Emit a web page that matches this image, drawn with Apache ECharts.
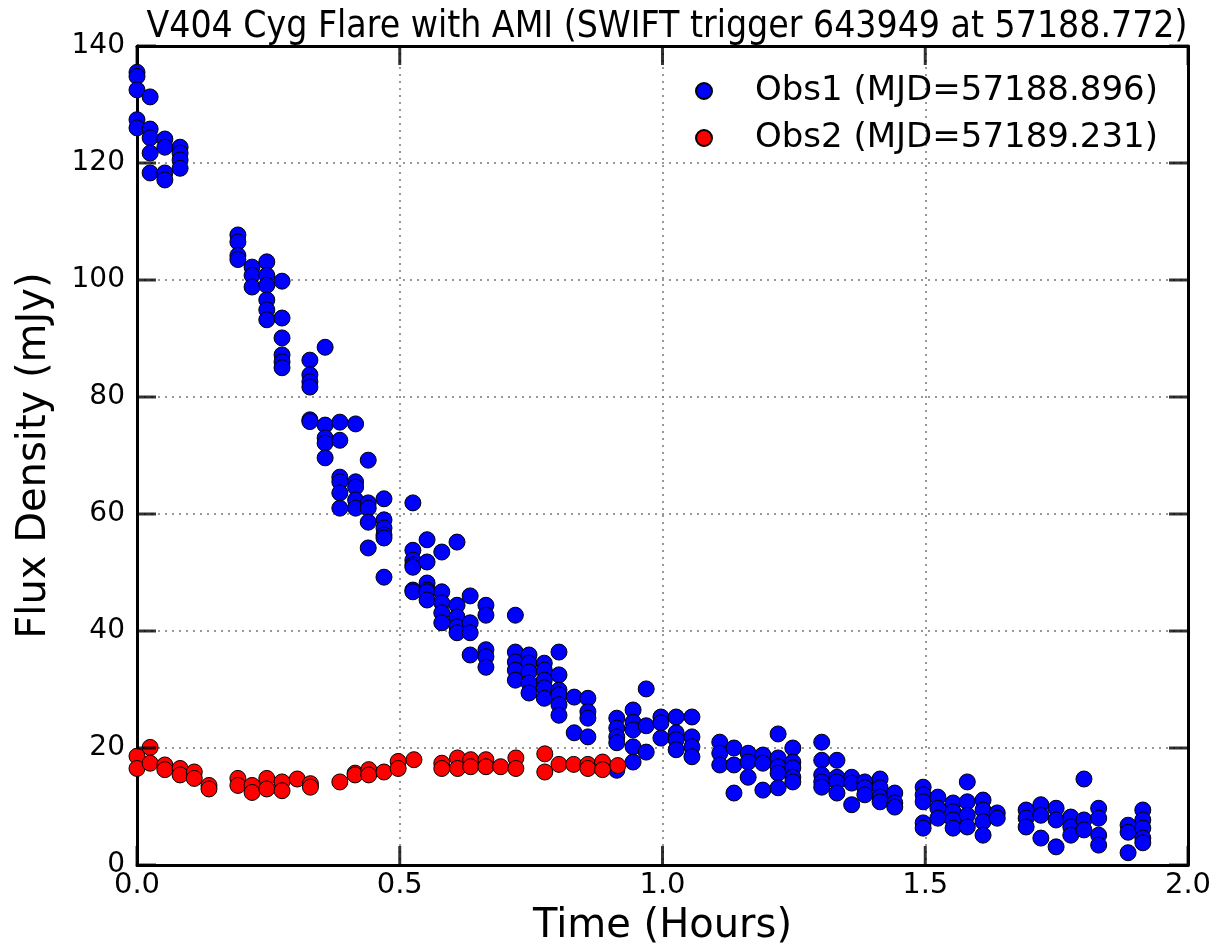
<!DOCTYPE html>
<html>
<head>
<meta charset="utf-8">
<script src="https://cdn.jsdelivr.net/npm/echarts@6/dist/echarts.min.js"></script>
<style>
html,body{margin:0;padding:0;background:#fff;}
#chart{width:1214px;height:946px;}
</style>
</head>
<body>
<div id="chart"></div>
<script>
// Obs1 (blue) points: time in hours, flux density in mJy
const obs1Time = [
  0,0,0,0,0,
  0.025,0.025,0.025,0.025,0.025,
  0.053,0.053,0.053,0.053,
  0.082,0.082,0.082,0.082,
  0.192,0.192,0.192,0.192,
  0.219,0.219,0.219,
  0.247,0.247,0.247,0.247,0.247,0.247,
  0.276,0.276,0.276,0.276,0.276,0.276,
  0.329,0.329,0.329,0.329,0.329,0.329,
  0.358,0.358,0.358,0.358,0.358,
  0.386,0.386,0.386,0.386,0.386,0.386,
  0.416,0.416,0.416,0.416,0.416,
  0.44,0.44,0.44,0.44,0.44,
  0.47,0.47,0.47,0.47,0.47,0.47,
  0.525,0.525,0.525,0.525,0.525,0.525,0.525,
  0.552,0.552,0.552,0.552,0.552,0.552,
  0.58,0.58,0.58,0.58,0.58,
  0.609,0.609,0.609,0.609,0.609,
  0.634,0.634,0.634,0.634,
  0.664,0.664,0.664,0.664,0.664,
  0.72,0.72,0.72,0.72,0.72,
  0.746,0.746,0.746,0.746,0.746,
  0.775,0.775,0.775,0.775,0.775,
  0.803,0.803,0.803,0.803,0.803,0.803,
  0.832,0.832,
  0.858,0.858,0.858,0.858,
  0.913,0.913,0.913,0.913,0.913,
  0.944,0.944,0.944,0.944,0.944,
  0.969,0.969,0.969,
  0.997,0.997,0.997,
  1.026,1.026,1.026,1.026,
  1.056,1.056,1.056,1.056,
  1.109,1.109,1.109,
  1.136,1.136,1.136,
  1.163,1.163,1.163,
  1.191,1.191,1.191,
  1.22,1.22,1.22,1.22,1.22,
  1.248,1.248,1.248,1.248,1.248,
  1.303,1.303,1.303,1.303,1.303,
  1.332,1.332,1.332,1.332,
  1.36,1.36,1.36,
  1.385,1.385,1.385,
  1.414,1.414,1.414,1.414,
  1.442,1.442,1.442,
  1.496,1.496,1.496,1.496,1.496,
  1.524,1.524,1.524,
  1.553,1.553,1.553,1.553,
  1.58,1.58,1.58,1.58,
  1.61,1.61,1.61,1.61,
  1.637,1.637,
  1.692,1.692,1.692,
  1.72,1.72,1.72,
  1.749,1.749,1.749,
  1.777,1.777,1.777,
  1.802,1.802,1.802,
  1.83,1.83,1.83,1.83,
  1.886,1.886,1.886,
  1.914,1.914,1.914,1.914,1.914
];
const obs1Flux = [
  135.5,134.8,132.5,127.4,126,
  131.3,125.8,124.3,121.7,118.3,
  124.1,122.7,118.3,117.1,
  122.7,121.7,120.5,119.1,
  107.7,106.5,104.2,103.5,
  102.2,100.8,98.8,
  103.1,100.8,99.1,96.6,94.9,93.2,
  99.8,93.5,90.1,87.2,86,85,
  86.3,83.8,82.6,81.7,76.1,75.8,
  88.5,75.2,73.0,72.1,69.6,
  75.7,72.6,66.3,65.5,63.6,61.0,
  75.4,65.5,64.6,62.4,61.0,
  69.2,61.9,61.0,58.6,54.2,
  62.6,59.0,57.6,56.4,55.9,49.2,
  61.9,53.8,52.1,51.3,50.9,47.0,46.7,
  55.6,51.8,48.2,47.0,46.7,45.3,
  53.5,46.7,44.8,43.1,41.4,
  55.2,44.4,42.4,40.7,39.7,
  46.0,41.4,39.7,35.9,
  44.4,42.7,36.8,35.6,33.8,
  42.7,36.4,34.7,33.3,31.6,
  35.9,34.5,33.0,31.1,29.4,
  34.5,33.3,31.6,30.3,28.5,
  36.4,32.5,29.9,29.1,27.4,25.6,
  28.7,22.6,
  28.5,26.2,25.1,21.9,
  25.1,23.4,21.9,20.9,16.2,
  26.5,24.4,23.1,20.2,17.6,
  30.1,23.8,19.3,
  25.3,24.3,21.7,
  25.3,22.6,21.4,19.7,
  25.3,21.9,20.2,18.5,
  21.0,19.1,17.1,
  20.0,17.1,12.3,
  19.1,17.6,15.0,
  18.8,17.4,12.8,
  22.4,18.3,16.8,15.7,13.2,
  20.0,17.6,16.6,15.0,14.2,
  21.0,17.9,15.4,14.2,13.3,
  17.9,15.0,14.2,12.3,
  15.0,14.0,10.3,
  14.2,13.2,12.0,
  14.7,13.2,11.6,10.8,
  12.3,10.6,9.9,
  13.3,12.0,10.8,7.2,6.3,
  11.6,9.7,8.0,
  10.6,9.1,7.7,6.3,
  14.2,10.8,8.5,6.5,
  11.1,9.4,7.4,5.1,
  8.9,8.0,
  9.4,8.0,6.5,
  10.3,8.5,4.6,
  9.7,7.7,3.1,
  8.2,6.5,5.1,
  14.7,7.7,6.0,
  9.7,8.0,5.1,3.4,
  6.8,5.6,2.1,
  9.4,7.7,6.3,4.6,3.8
];
// Obs2 (red) points
const obs2Time = [
  0,0, 0.025,0.025, 0.053,0.053, 0.082,0.082, 0.109,0.109, 0.137,0.137,
  0.192,0.192, 0.219,0.219, 0.247,0.247, 0.276,0.276, 0.305, 0.33,0.33,
  0.386, 0.415,0.415, 0.441,0.441, 0.47, 0.497,0.497, 0.527,
  0.58,0.58, 0.61,0.61, 0.635,0.635, 0.664,0.664, 0.692, 0.721,0.721,
  0.776,0.776, 0.803, 0.831, 0.858,0.858, 0.886,0.886, 0.915
];
const obs2Flux = [
  18.6,16.5, 20.1,17.4, 17.1,16.3, 16.5,15.4, 15.9,14.8, 13.6,13.0,
  14.8,13.6, 13.6,12.4, 14.8,13.0, 14.2,12.7, 14.7, 13.9,13.3,
  14.2, 15.7,15.4, 16.3,15.4, 15.9, 17.7,16.5, 18.0,
  17.4,16.5, 18.3,16.5, 18.0,16.8, 18.0,16.8, 16.8, 18.3,16.5,
  19.0,15.9, 17.2, 17.2, 17.2,16.5, 17.6,16.3, 17.0
];
// major tick values
const xTicks = [0, 0.5, 1.0, 1.5, 2.0];
const yTicks = [0, 20, 40, 60, 80, 100, 120, 140];
const seriesNames = ['Obs1 (MJD=57188.896)', 'Obs2 (MJD=57189.231)'];
const titleText = 'V404 Cyg Flare with AMI (SWIFT trigger 643949 at 57188.772)';

const zip = (a, b) => a.map((v, i) => [v, b[i]]);
const X_MIN = xTicks[0], X_MAX = xTicks[xTicks.length - 1];
const Y_MIN = yTicks[0], Y_MAX = yTicks[yTicks.length - 1];

const chart = echarts.init(document.getElementById('chart'));
const FONT = 'DejaVu Sans';
const TL = 19;   // tick length in px
const TW = 3;    // tick width in px
const axLine = () => ({ show: true, onZero: false, lineStyle: { color: '#000', width: 3 } });
const dotted = { show: true, lineStyle: { color: '#777', type: [2, 5], width: 1.5 } };
const xBase = { type: 'value', min: X_MIN, max: X_MAX, interval: 0.5 };
const yBase = { type: 'value', min: Y_MIN, max: Y_MAX, interval: 20 };

// inward-pointing major tick marks on all four sides, placed via the axes' scales
const tickSeries = (data, size, offset) => ({
  type: 'scatter', symbol: 'rect', symbolSize: size, symbolOffset: offset,
  silent: true, clip: false, z: 5, legendHoverLink: false,
  itemStyle: { color: '#000', borderWidth: 0 },
  data: data
});

chart.setOption({
  backgroundColor: '#fff',
  animation: false,
  title: {
    text: titleText,
    left: 662, textAlign: 'center', top: 4,
    textStyle: { fontFamily: 'DejaVu Sans Condensed, ' + FONT, fontSize: 37, fontWeight: 'normal', color: '#000' }
  },
  legend: {
    orient: 'vertical',
    left: 690, top: 69,
    itemGap: 13,
    itemWidth: 16, itemHeight: 16,
    icon: 'circle',
    textStyle: { fontFamily: FONT, fontSize: 34, color: '#000', padding: [0, 0, 0, 38] },
    data: seriesNames
  },
  grid: { left: 137, right: 26, top: 46, bottom: 81, containLabel: false, outerBoundsMode: 'none' },
  xAxis: [
    Object.assign({}, xBase, {
      name: 'Time (Hours)', nameLocation: 'middle', nameGap: 42,
      nameTextStyle: { fontFamily: FONT, fontSize: 40, color: '#000' },
      axisLine: axLine(), axisTick: { show: false }, splitLine: dotted,
      axisLabel: { fontFamily: FONT, fontSize: 29, color: '#000', margin: 6, formatter: v => v.toFixed(1) }
    }),
    Object.assign({}, xBase, {
      position: 'top', axisLine: axLine(), axisTick: { show: false },
      splitLine: { show: false }, axisLabel: { show: false }
    })
  ],
  yAxis: [
    Object.assign({}, yBase, {
      name: 'Flux Density (mJy)', nameLocation: 'middle', nameGap: 82,
      nameTextStyle: { fontFamily: FONT, fontSize: 40, color: '#000' },
      axisLine: axLine(), axisTick: { show: false }, splitLine: dotted,
      axisLabel: { fontFamily: FONT, fontSize: 28, color: '#000', margin: 12 }
    }),
    Object.assign({}, yBase, {
      position: 'right', axisLine: axLine(), axisTick: { show: false },
      splitLine: { show: false }, axisLabel: { show: false }
    })
  ],
  series: [
    tickSeries(xTicks.map(t => [t, Y_MIN]), [TW, TL], [0, -TL / 2]),
    tickSeries(xTicks.map(t => [t, Y_MAX]), [TW, TL], [0, TL / 2]),
    tickSeries(yTicks.map(v => [X_MIN, v]), [TL, TW], [TL / 2, 0]),
    tickSeries(yTicks.map(v => [X_MAX, v]), [TL, TW], [-TL / 2, 0]),
    {
      name: seriesNames[0], type: 'scatter', symbol: 'circle', symbolSize: 16, z: 3,
      itemStyle: { color: '#0000ff', borderColor: '#000', borderWidth: 1, opacity: 1 },
      data: zip(obs1Time, obs1Flux)
    }, {
      name: seriesNames[1], type: 'scatter', symbol: 'circle', symbolSize: 16, z: 4,
      itemStyle: { color: '#ff0000', borderColor: '#000', borderWidth: 1, opacity: 1 },
      data: zip(obs2Time, obs2Flux)
    }
  ]
});
</script>
</body>
</html>
